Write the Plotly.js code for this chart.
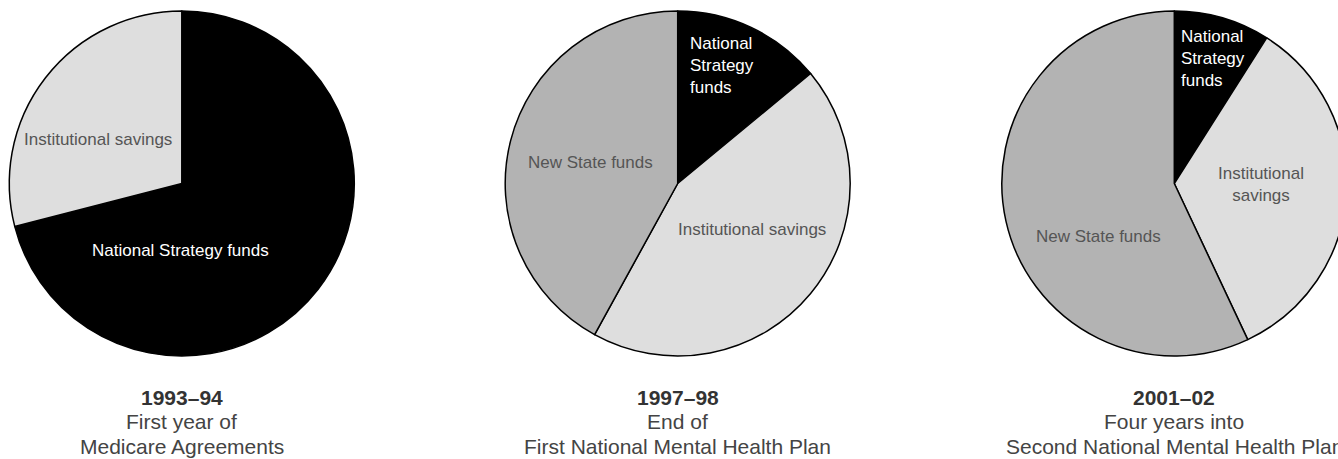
<!DOCTYPE html>
<html>
<head>
<meta charset="utf-8">
<script src="https://cdn.plot.ly/plotly-3.0.1.min.js"></script>
<style>
html,body{margin:0;padding:0;overflow:hidden;background:#fff;width:1338px;height:459px;}
#chart{width:1350px;height:459px;}
</style>
</head>
<body>
<div id="chart"></div>
<script>
// ---- data ----
const periods = ["1993–94", "1997–98", "2001–02"];
const captionLine1 = ["First year of", "End of", "Four years into"];
const captionLine2 = ["Medicare Agreements", "First National Mental Health Plan", "Second National Mental Health Plan"];

const labels1 = ["National Strategy funds", "Institutional savings"];
const values1 = [71, 29];

const labels2 = ["National Strategy funds", "Institutional savings", "New State funds"];
const values2 = [14, 44, 42];

const labels3 = ["National Strategy funds", "Institutional savings", "New State funds"];
const values3 = [9, 34, 57];

// ---- styling / layout ----
const W = 1350, H = 459;
const colorMap = {
  "National Strategy funds": "#000000",
  "Institutional savings": "#dedede",
  "New State funds": "#b3b3b3"
};
const textColorMap = {
  "National Strategy funds": "#ffffff",
  "Institutional savings": "#555555",
  "New State funds": "#555555"
};
const FONT = "Liberation Sans, Arial, Helvetica, sans-serif";

const centersX = [181.8, 677.7, 1174.3];
const centerY = 183.5;
const R = 172.5;

function dom(cx) {
  return {
    x: [(cx - R) / W, (cx + R) / W],
    y: [(H - centerY - R) / H, (H - centerY + R) / H]
  };
}

const allLabels = [labels1, labels2, labels3];
const allValues = [values1, values2, values3];

const traces = allLabels.map((labs, i) => ({
  type: "pie",
  labels: labs,
  values: allValues[i],
  sort: false,
  direction: "clockwise",
  rotation: 0,
  domain: dom(centersX[i]),
  marker: { colors: labs.map(l => colorMap[l]), line: { color: "#000", width: 1.5 } },
  textinfo: "none",
  hoverinfo: "label+value",
  showlegend: false
}));

// slice label placements (pixel positions), keyed per pie
const labelPlacements = [
  [
    { label: "Institutional savings", text: "Institutional savings", x: 98.3, y: 139.3, anchor: "center", align: "center" },
    { label: "National Strategy funds", text: "National Strategy funds", x: 180, y: 250.7, anchor: "center", align: "center" }
  ],
  [
    { label: "National Strategy funds", text: "National<br>Strategy<br>funds", x: 688, y: 66, anchor: "left", align: "left" },
    { label: "New State funds", text: "New State funds", x: 590.3, y: 162.3, anchor: "center", align: "center" },
    { label: "Institutional savings", text: "Institutional savings", x: 752, y: 230, anchor: "center", align: "center" }
  ],
  [
    { label: "National Strategy funds", text: "National<br>Strategy<br>funds", x: 1179, y: 58, anchor: "left", align: "left" },
    { label: "Institutional savings", text: "Institutional<br>savings", x: 1261.3, y: 184.2, anchor: "center", align: "center" },
    { label: "New State funds", text: "New State funds", x: 1098.3, y: 236.7, anchor: "center", align: "center" }
  ]
];

const annotations = [];
labelPlacements.forEach(list => list.forEach(p => {
  annotations.push({
    xref: "paper", yref: "paper",
    x: p.x / W, y: 1 - p.y / H,
    xanchor: p.anchor, yanchor: "middle",
    align: p.align,
    text: p.text,
    showarrow: false,
    font: { family: FONT, size: 17, color: textColorMap[p.label] }
  });
}));

const capY = [397.3, 421.7, 446];
centersX.forEach((cx, i) => {
  const lines = ["<b>" + periods[i] + "</b>", captionLine1[i], captionLine2[i]];
  lines.forEach((t, j) => {
    annotations.push({
      xref: "paper", yref: "paper",
      x: cx / W, y: 1 - capY[j] / H,
      xanchor: "center", yanchor: "middle",
      text: t, showarrow: false,
      font: { family: FONT, size: 21, color: j === 0 ? "#333333" : "#444444" }
    });
  });
});

const layout = {
  width: W, height: H,
  margin: { l: 0, r: 0, t: 0, b: 0 },
  paper_bgcolor: "#ffffff",
  plot_bgcolor: "#ffffff",
  annotations: annotations,
  font: { family: FONT }
};

Plotly.newPlot("chart", traces, layout, { displayModeBar: false, staticPlot: true });
</script>
</body>
</html>
